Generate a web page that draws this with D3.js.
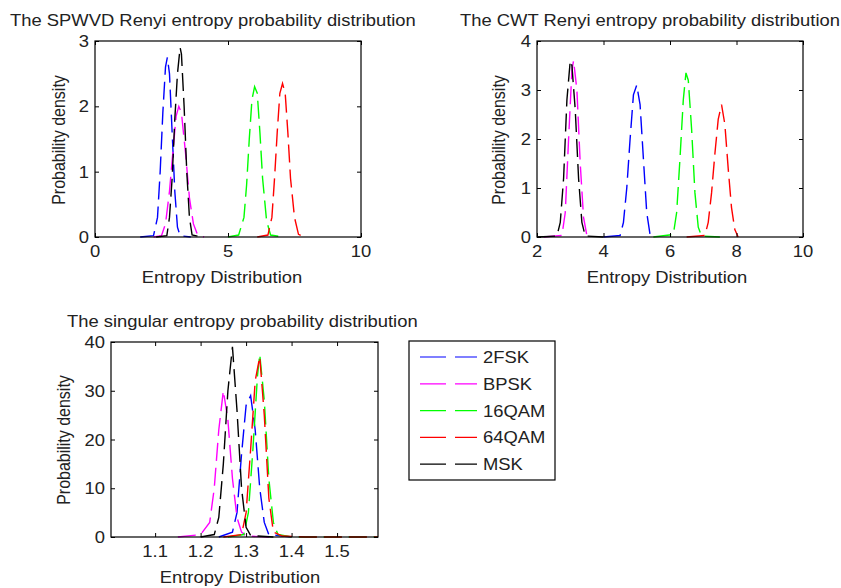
<!DOCTYPE html>
<html>
<head>
<meta charset="utf-8">
<script src="https://cdn.jsdelivr.net/npm/d3@7"></script>
<style>
  body { margin: 0; background: #fff; }
  text { font-family: "Liberation Sans", Arial, sans-serif; fill: #222; }
</style>
</head>
<body>
<div id="container"></div>
<script>
/* CONSTANTS AND GLOBALS */
const width = 841, height = 588;
const sx = 1.15; // horizontal stretch of the text in the source picture

const names = ["2FSK", "BPSK", "16QAM", "64QAM", "MSK"];
const colors = ["#0000ff", "#ff00ff", "#00ff00", "#ff0000", "#000000"];

// SPWVD Renyi entropy (top left)
const spwvdX = [
  [1.7, 2.2, 2.35, 2.45, 2.55, 2.65, 2.72, 2.8, 2.9, 3.0, 3.1, 3.2, 3.6],
  [2.2, 2.5, 2.65, 2.8, 2.95, 3.05, 3.15, 3.25, 3.4, 3.55, 3.7, 3.85, 4.1],
  [5.0, 5.4, 5.6, 5.7, 5.8, 5.9, 6.0, 6.1, 6.2, 6.3, 6.45, 6.6, 7.05],
  [6.1, 6.5, 6.65, 6.75, 6.85, 6.95, 7.05, 7.15, 7.25, 7.35, 7.5, 7.65, 7.85],
  [2.3, 2.7, 2.8, 2.9, 3.0, 3.1, 3.2, 3.25, 3.35, 3.45, 3.55, 3.65, 4.0]
];
const spwvdY = [
  [0, 0.02, 0.3, 1.0, 1.9, 2.6, 2.75, 2.5, 1.6, 0.7, 0.15, 0.02, 0],
  [0, 0.02, 0.2, 0.7, 1.4, 1.85, 2.0, 1.9, 1.3, 0.6, 0.2, 0.04, 0],
  [0, 0.03, 0.3, 0.8, 1.5, 2.1, 2.3, 2.2, 1.6, 0.9, 0.25, 0.03, 0],
  [0, 0.03, 0.3, 0.9, 1.6, 2.2, 2.35, 2.2, 1.6, 0.9, 0.3, 0.04, 0],
  [0, 0.02, 0.3, 0.9, 1.8, 2.5, 2.9, 2.8, 2.0, 1.0, 0.3, 0.03, 0]
];

// CWT Renyi entropy (top right)
const cwtX = [
  [4.0, 4.5, 4.6, 4.7, 4.8, 4.9, 5.0, 5.1, 5.2, 5.3, 5.4, 5.5],
  [2.2, 2.75, 2.85, 2.95, 3.05, 3.1, 3.2, 3.3, 3.4, 3.5, 3.6],
  [5.5, 6.1, 6.2, 6.3, 6.4, 6.48, 6.55, 6.65, 6.75, 6.85, 6.95, 7.5],
  [6.5, 7.05, 7.15, 7.25, 7.35, 7.45, 7.55, 7.65, 7.75, 7.85, 7.95, 8.05],
  [2.0, 2.6, 2.7, 2.8, 2.9, 3.0, 3.05, 3.15, 3.25, 3.35, 3.45, 4.0]
];
const cwtY = [
  [0, 0.03, 0.3, 1.0, 2.0, 2.9, 3.1, 2.7, 1.6, 0.5, 0.05, 0],
  [0, 0.03, 0.5, 2.0, 3.4, 3.6, 3.0, 1.5, 0.4, 0.03, 0],
  [0, 0.05, 0.5, 1.6, 2.8, 3.35, 3.2, 2.2, 0.9, 0.2, 0.02, 0],
  [0, 0.03, 0.3, 0.9, 1.7, 2.4, 2.7, 2.3, 1.4, 0.6, 0.15, 0],
  [0, 0.02, 0.3, 1.2, 2.8, 3.6, 3.5, 2.6, 1.2, 0.3, 0.02, 0]
];

// singular entropy (bottom)
const singX = [
  [1.24, 1.27, 1.28, 1.29, 1.30, 1.31, 1.32, 1.33, 1.34, 1.35, 1.40],
  [1.15, 1.2, 1.22, 1.23, 1.24, 1.25, 1.26, 1.27, 1.28, 1.29, 1.30, 1.35],
  [1.26, 1.295, 1.305, 1.315, 1.325, 1.33, 1.34, 1.35, 1.36, 1.37, 1.4, 1.5, 1.59],
  [1.25, 1.29, 1.30, 1.31, 1.32, 1.33, 1.34, 1.35, 1.36, 1.38, 1.43, 1.5, 1.59],
  [1.2, 1.23, 1.24, 1.25, 1.26, 1.27, 1.28, 1.29, 1.30, 1.31, 1.36]
];
const singY = [
  [0, 1, 5, 17, 27, 29, 22, 10, 3, 0.5, 0],
  [0, 0.5, 3, 10, 22, 30, 24, 12, 4, 1, 0.2, 0],
  [0, 0.5, 5, 18, 33, 37.5, 28, 12, 3, 0.5, 0, 0, 0],
  [0, 0.5, 5, 18, 32, 37, 25, 8, 1, 0.2, 0, 0, 0],
  [0, 0.5, 4, 15, 30, 39, 26, 10, 2, 0.3, 0]
];

const svg = d3.select("#container").append("svg")
  .attr("width", width)
  .attr("height", height);

// horizontal text, stretched like the source
function hText(parent, x, y, s, anchor) {
  return parent.append("text")
    .attr("transform", "translate(" + x + "," + y + ") scale(" + sx + ",1)")
    .attr("text-anchor", anchor || "start")
    .style("font-size", "16px")
    .text(s);
}

function drawPanel(p) {
  const g = svg.append("g").attr("transform", "translate(" + p.left + "," + p.top + ")");

  const x = d3.scaleLinear().domain(p.xDomain).range([0, p.w]);
  const y = d3.scaleLinear().domain(p.yDomain).range([p.h, 0]);

  // lines
  const line = d3.line().x(d => x(d[0])).y(d => y(d[1]));
  p.xs.forEach((xs, i) => {
    const pts = xs.map((v, j) => [v, p.ys[i][j]]);
    g.append("path")
      .datum(pts)
      .attr("fill", "none")
      .attr("stroke", colors[i])
      .attr("stroke-width", 1.4)
      .attr("stroke-dasharray", "18,7")
      .attr("d", line);
  });

  // axes, ticks inside on all four sides
  g.append("g").attr("transform", "translate(0," + p.h + ")")
    .call(d3.axisBottom(x).tickValues(p.xTicks).tickSize(-4).tickFormat(""));
  g.append("g")
    .call(d3.axisTop(x).tickValues(p.xTicks).tickSize(-4).tickFormat(""));
  g.append("g")
    .call(d3.axisLeft(y).tickValues(p.yTicks).tickSize(-4).tickFormat(""));
  g.append("g").attr("transform", "translate(" + p.w + ",0)")
    .call(d3.axisRight(y).tickValues(p.yTicks).tickSize(-4).tickFormat(""));

  g.selectAll(".domain").remove();
  g.selectAll(".tick line").attr("stroke", "#000");

  g.append("rect")
    .attr("width", p.w).attr("height", p.h)
    .attr("fill", "none").attr("stroke", "#000").attr("stroke-width", 1.2);

  // tick labels, placed from the scales
  p.xTicks.forEach(t => hText(g, x(t), p.h + 20, p.xFmt(t), "middle"));
  p.yTicks.forEach(t => hText(g, -6, y(t) + 6, String(t), "end"));

  // titles and labels
  hText(svg, p.titleX, p.titleY, p.title);
  hText(svg, p.xlabX, p.xlabY, "Entropy Distribution", "middle");

  svg.append("text")
    .attr("transform", "translate(" + p.ylabX + "," + p.ylabY + ") rotate(-90) scale(1,1.1)")
    .attr("text-anchor", "middle")
    .style("font-size", "16px")
    .text("Probability density");
}

drawPanel({
  left: 95, top: 41, w: 266, h: 196,
  xDomain: [0, 10], yDomain: [0, 3],
  xTicks: [0, 5, 10], yTicks: [0, 1, 2, 3], xFmt: d3.format("d"),
  xs: spwvdX, ys: spwvdY,
  title: "The SPWVD Renyi entropy probability distribution", titleX: 10, titleY: 26,
  xlabX: 222, xlabY: 283, ylabX: 65, ylabY: 140
});

drawPanel({
  left: 537, top: 41, w: 266, h: 196,
  xDomain: [2, 10], yDomain: [0, 4],
  xTicks: [2, 4, 6, 8, 10], yTicks: [0, 1, 2, 3, 4], xFmt: d3.format("d"),
  xs: cwtX, ys: cwtY,
  title: "The CWT Renyi entropy probability distribution", titleX: 460, titleY: 26,
  xlabX: 667, xlabY: 283, ylabX: 505, ylabY: 140
});

drawPanel({
  left: 111, top: 342, w: 267, h: 195,
  xDomain: [1.003, 1.59], yDomain: [0, 40],
  xTicks: [1.1, 1.2, 1.3, 1.4, 1.5], yTicks: [0, 10, 20, 30, 40], xFmt: d3.format(".1f"),
  xs: singX, ys: singY,
  title: "The singular entropy probability distribution", titleX: 67, titleY: 327,
  xlabX: 240, xlabY: 583, ylabX: 70, ylabY: 440
});

// LEGEND
const leg = svg.append("g").attr("transform", "translate(409,341)");
leg.append("rect")
  .attr("width", 146).attr("height", 139)
  .attr("fill", "#fff").attr("stroke", "#000").attr("stroke-width", 1.2);
names.forEach((n, i) => {
  const yy = 16 + i * 26.8;
  leg.append("line")
    .attr("x1", 11).attr("x2", 68).attr("y1", yy).attr("y2", yy)
    .attr("stroke", colors[i]).attr("stroke-width", 1.2)
    .attr("stroke-dasharray", "26,9");
  hText(leg, 74, yy + 6, n);
});
</script>
</body>
</html>
